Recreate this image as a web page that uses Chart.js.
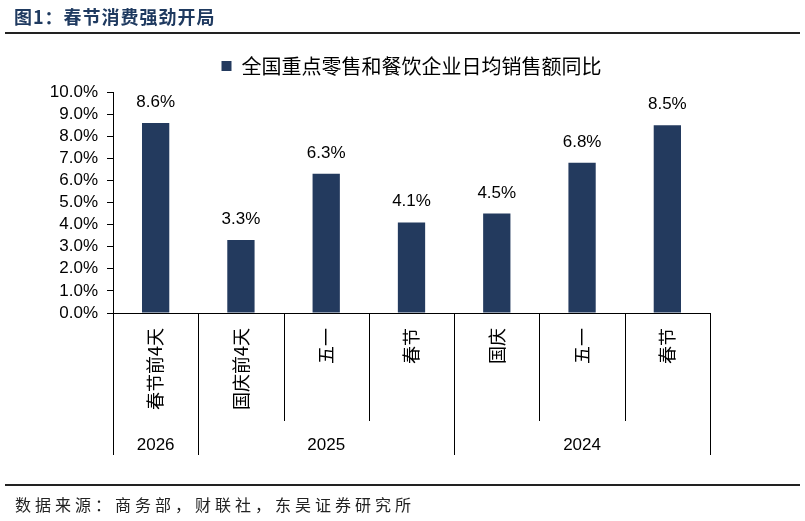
<!DOCTYPE html>
<html><head><meta charset="utf-8">
<script src="https://cdn.jsdelivr.net/npm/chart.js@4.4.0/dist/chart.umd.min.js"></script>
<style>
html,body{margin:0;padding:0;background:#fff;width:805px;height:521px;overflow:hidden;}
#wrap{position:absolute;left:0;top:0;width:805px;height:521px;}
#title{position:absolute;left:14px;top:3px;font:bold 18px "Noto Sans CJK SC";color:#1F3A60;letter-spacing:1px;white-space:nowrap;}
#line1{position:absolute;left:5px;top:32px;width:795px;height:2px;background:#222;}
#line2{position:absolute;left:5px;top:484px;width:795px;height:2px;background:#222;}
#source{position:absolute;left:15px;top:492px;font:16px "Noto Sans CJK SC";letter-spacing:4px;color:#222;white-space:nowrap;}
</style></head>
<body>
<div id="wrap"><canvas id="c"></canvas></div>
<div id="title">图1：春节消费强劲开局</div>
<div id="line1"></div>
<div id="line2"></div>
<div id="source">数据来源：商务部，财联社，东吴证券研究所</div>
<script>
const categories = ['春节前4天','国庆前4天','五一','春节','国庆','五一','春节'];
const values = [8.6, 3.3, 6.3, 4.1, 4.5, 6.8, 8.5];
const years = ['2026','2025','2024'];
const yearSpans = [1, 3, 3];
const seriesName = '全国重点零售和餐饮企业日均销售额同比';
const barColor = '#233A5E';

const legendGapPlugin = {
  id: 'legendGap',
  beforeUpdate(chart) {
    const lg = chart.legend;
    if (lg && !lg._patched) {
      const orig = lg.fit;
      lg.fit = function () { orig.call(this); this.height += 6; };
      lg._patched = true;
    }
  }
};

const groupPlugin = {
  id: 'groups',
  afterDraw(chart) {
    const ctx = chart.ctx, xs = chart.scales.x, a = chart.chartArea;
    const n = categories.length;
    const bounds = [];
    for (let i = 0; i <= n; i++) {
      if (i === 0) bounds.push(xs.left);
      else if (i === n) bounds.push(xs.right);
      else bounds.push((xs.getPixelForValue(i - 1) + xs.getPixelForValue(i)) / 2);
    }
    const edges = new Set([0]);
    let acc = 0;
    yearSpans.forEach(s => { acc += s; edges.add(acc); });
    ctx.save();
    ctx.strokeStyle = '#000';
    ctx.lineWidth = 1;
    bounds.forEach((bx, i) => {
      const px = Math.round(bx) + 0.5;
      ctx.beginPath();
      ctx.moveTo(px, a.bottom);
      ctx.lineTo(px, a.bottom + (edges.has(i) ? 142 : 108));
      ctx.stroke();
    });
    ctx.fillStyle = '#000';
    ctx.font = '17px "Liberation Sans"';
    ctx.textAlign = 'center';
    ctx.textBaseline = 'middle';
    let start = 0;
    years.forEach((y, k) => {
      const end = start + yearSpans[k];
      ctx.fillText(y, (bounds[start] + bounds[end]) / 2, a.bottom + 132);
      start = end;
    });
    ctx.textBaseline = 'alphabetic';
    const meta = chart.getDatasetMeta(0);
    meta.data.forEach((bar, i) => {
      ctx.fillText(values[i].toFixed(1) + '%', bar.x, bar.y - 16);
    });
    ctx.restore();
  }
};

new Chart(document.getElementById('c'), {
  type: 'bar',
  data: {
    labels: categories,
    datasets: [{
      label: seriesName,
      data: values,
      backgroundColor: barColor,
      borderWidth: 0,
      categoryPercentage: 1,
      barPercentage: 0.32
    }]
  },
  options: {
    responsive: true,
    maintainAspectRatio: false,
    animation: false,
    layout: { padding: { left: 0, right: 95, top: 51, bottom: 58 } },
    plugins: {
      tooltip: { enabled: false },
      legend: {
        position: 'top',
        fullSize: false,
        labels: {
          boxWidth: 10, boxHeight: 10, padding: 5,
          color: '#000',
          font: { family: '"Noto Sans CJK SC"', size: 20 }
        }
      }
    },
    scales: {
      x: {
        grid: { display: false, drawTicks: false },
        border: { display: true, color: '#000', width: 1 },
        ticks: {
          autoSkip: false, maxRotation: 90, minRotation: 90, padding: 15,
          color: '#000',
          font: { family: '"Noto Sans CJK SC"', size: 18 }
        },
        afterFit(s) { s.height = 150; }
      },
      y: {
        min: 0, max: 10,
        grid: { drawOnChartArea: false, drawTicks: true, tickLength: 6, color: '#000' },
        border: { display: true, color: '#000', width: 1 },
        ticks: {
          stepSize: 1, autoSkip: false, padding: 9, color: '#000',
          font: { family: '"Liberation Sans"', size: 17 },
          callback: v => v.toFixed(1) + '%'
        },
        afterFit(s) { s.width = 113; }
      }
    }
  },
  plugins: [legendGapPlugin, groupPlugin]
});
</script>
</body></html>
